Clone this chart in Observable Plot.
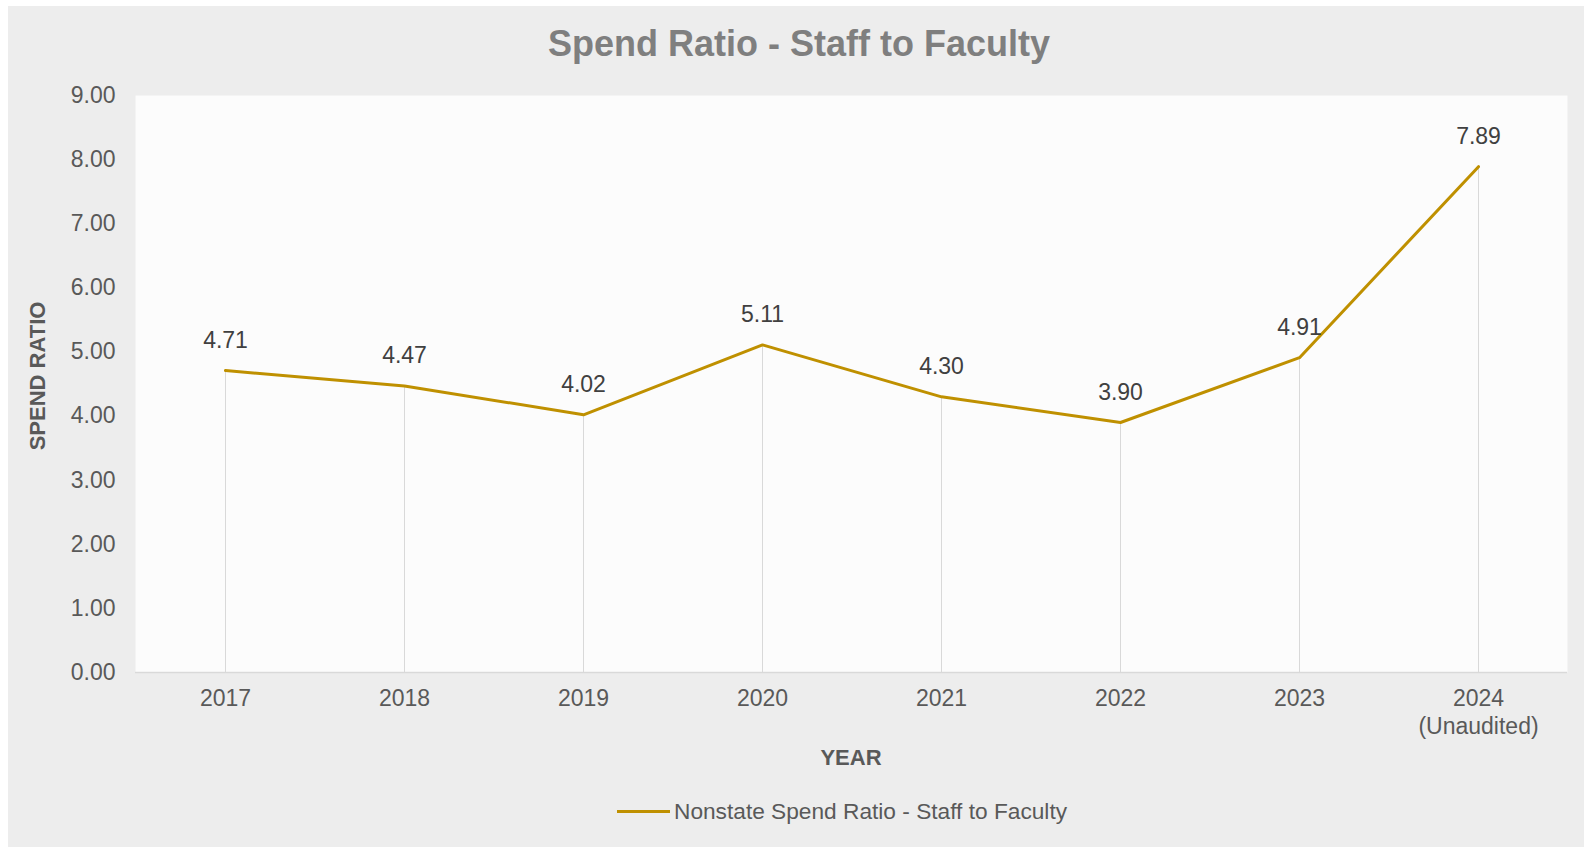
<!DOCTYPE html>
<html>
<head>
<meta charset="utf-8">
<script src="https://cdn.jsdelivr.net/npm/d3@7"></script>
<script src="https://cdn.jsdelivr.net/npm/@observablehq/plot@0.6"></script>
<style>
  html, body { margin: 0; padding: 0; background: #ffffff; }
  #wrap { position: absolute; left: 8px; top: 6px; width: 1576px; height: 841px; background: #ededed; font-family: "Liberation Sans", Arial, sans-serif; overflow: hidden; }
  #chart { position: absolute; left: 0; top: 0; }
  .lbl { position: absolute; line-height: 1; white-space: nowrap; transform: translate(-50%, -50%); }
  #title { left: 791px; top: 38px; font-size: 36px; font-weight: bold; color: #7f7f7f; }
  #ylabel { left: 30px; top: 370px; font-size: 22px; font-weight: bold; color: #595959; transform: translate(-50%, -50%) rotate(-90deg); }
  #xlabel { left: 843px; top: 752px; font-size: 22px; font-weight: bold; color: #595959; }
  #legend-line { position: absolute; left: 609px; top: 804px; width: 53px; height: 3px; background: #bf9000; }
  #legend-text { position: absolute; left: 666px; top: 805px; font-size: 22.7px; line-height: 1; color: #595959; transform: translateY(-50%); white-space: nowrap; }
</style>
</head>
<body>
<div id="wrap">
  <div id="chart"></div>
  <div id="title" class="lbl">Spend Ratio - Staff to Faculty</div>
  <div id="ylabel" class="lbl">SPEND RATIO</div>
  <div id="xlabel" class="lbl">YEAR</div>
  <div id="legend-line"></div>
  <div id="legend-text">Nonstate Spend Ratio - Staff to Faculty</div>
</div>
<script>
const years = ["2017", "2018", "2019", "2020", "2021", "2022", "2023", "2024"];
const yearLabels = ["2017", "2018", "2019", "2020", "2021", "2022", "2023", "2024\n(Unaudited)"];
const spendRatios = [4.71, 4.47, 4.02, 5.11, 4.30, 3.90, 4.91, 7.89];
const yTicks = [0, 1, 2, 3, 4, 5, 6, 7, 8, 9];

const data = years.map((y, i) => ({year: y, label: yearLabels[i], value: spendRatios[i]}));
const fmt = d3.format(".2f");

const chart = Plot.plot({
  width: 1576,
  height: 741,
  marginLeft: 127,
  marginRight: 17,
  marginTop: 89,
  marginBottom: 75,
  style: {
    background: "transparent",
    fontFamily: "'Liberation Sans', Arial, sans-serif",
    color: "#595959",
    fontSize: "23px"
  },
  x: {type: "point", domain: years, padding: 0.5, axis: null},
  y: {domain: [0, 9], axis: null},
  marks: [
    Plot.frame({fill: "#fcfcfc", stroke: null}),
    Plot.ruleX(data, {x: "year", y1: 0, y2: "value", stroke: "#d9d9d9", strokeWidth: 1}),
    Plot.ruleY([0], {stroke: "#d9d9d9", strokeWidth: 1.5}),
    Plot.axisY(yTicks, {
      tickSize: 0,
      tickPadding: 20,
      tickFormat: fmt,
      fontSize: 23,
      fill: "#595959",
      label: null
    }),
    Plot.text(data, {
      x: "year",
      text: "label",
      frameAnchor: "bottom",
      lineAnchor: "top",
      dy: 14,
      lineHeight: 1.2,
      fontSize: 23,
      fill: "#595959"
    }),
    Plot.line(data, {x: "year", y: "value", stroke: "#bf9000", strokeWidth: 3}),
    Plot.text(data, {
      x: "year",
      y: "value",
      text: d => fmt(d.value),
      dy: -30,
      fontSize: 23,
      fill: "#404040"
    })
  ]
});
document.getElementById("chart").appendChild(chart);
</script>
</body>
</html>
